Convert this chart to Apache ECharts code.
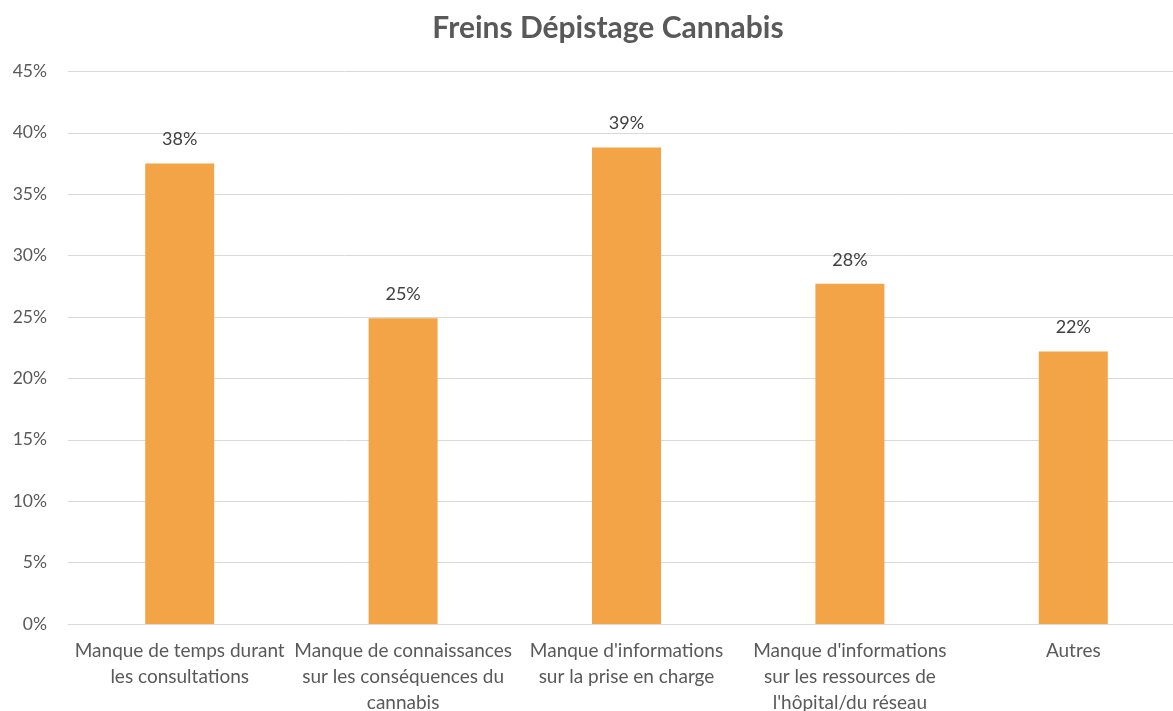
<!DOCTYPE html>
<html>
<head>
<meta charset="utf-8">
<script src="https://cdn.jsdelivr.net/npm/echarts@6/dist/echarts.min.js"></script>
<style>html,body{margin:0;padding:0;background:#fff;}#chart{width:1173px;height:711px;}</style>
</head>
<body>
<div id="chart"></div>
<script>
const titleText = "Freins Dépistage Cannabis";
const categories = [
  "Manque de temps durant\nles consultations",
  "Manque de connaissances\nsur les conséquences du\ncannabis",
  "Manque d'informations\nsur la prise en charge",
  "Manque d'informations\nsur les ressources de\nl'hôpital/du réseau",
  "Autres"
];
const values = [37.5, 24.9, 38.8, 27.7, 22.2];
const yMin = 0, yMax = 45, yStep = 5;

const chart = echarts.init(document.getElementById('chart'), null, {renderer: 'canvas'});
const font = "Lato, 'Open Sans', sans-serif";
chart.setOption({
  animation: false,
  backgroundColor: '#ffffff',
  title: {
    text: titleText,
    left: 603, top: 8, textAlign: 'center',
    textStyle: {fontFamily: font, fontSize: 30, fontWeight: 'bold', color: '#595959'}
  },
  grid: {left: 68, top: 71.4, width: 1117, height: 552.6, containLabel: false, outerBoundsMode: 'none'},
  xAxis: {
    type: 'category',
    data: categories,
    axisLine: {show: true, lineStyle: {color: '#D9D9D9', width: 1}},
    axisTick: {show: false},
    axisLabel: {fontFamily: font, fontSize: 19, color: '#595959', margin: 14, lineHeight: 26, interval: 0}
  },
  yAxis: {
    type: 'value',
    min: yMin, max: yMax, interval: yStep,
    axisLine: {show: false},
    axisTick: {show: false},
    splitLine: {lineStyle: {color: '#D9D9D9', width: 1}},
    axisLabel: {fontFamily: font, fontSize: 17.5, color: '#595959', margin: 21, formatter: v => v + '%'}
  },
  series: [{
    type: 'bar',
    data: values,
    barWidth: 69,
    itemStyle: {color: '#F2A446'},
    label: {
      show: true, position: 'top', distance: 15,
      fontFamily: font, fontSize: 18, color: '#404040',
      formatter: p => Math.round(p.value) + '%'
    }
  }]
});
</script>
</body>
</html>
